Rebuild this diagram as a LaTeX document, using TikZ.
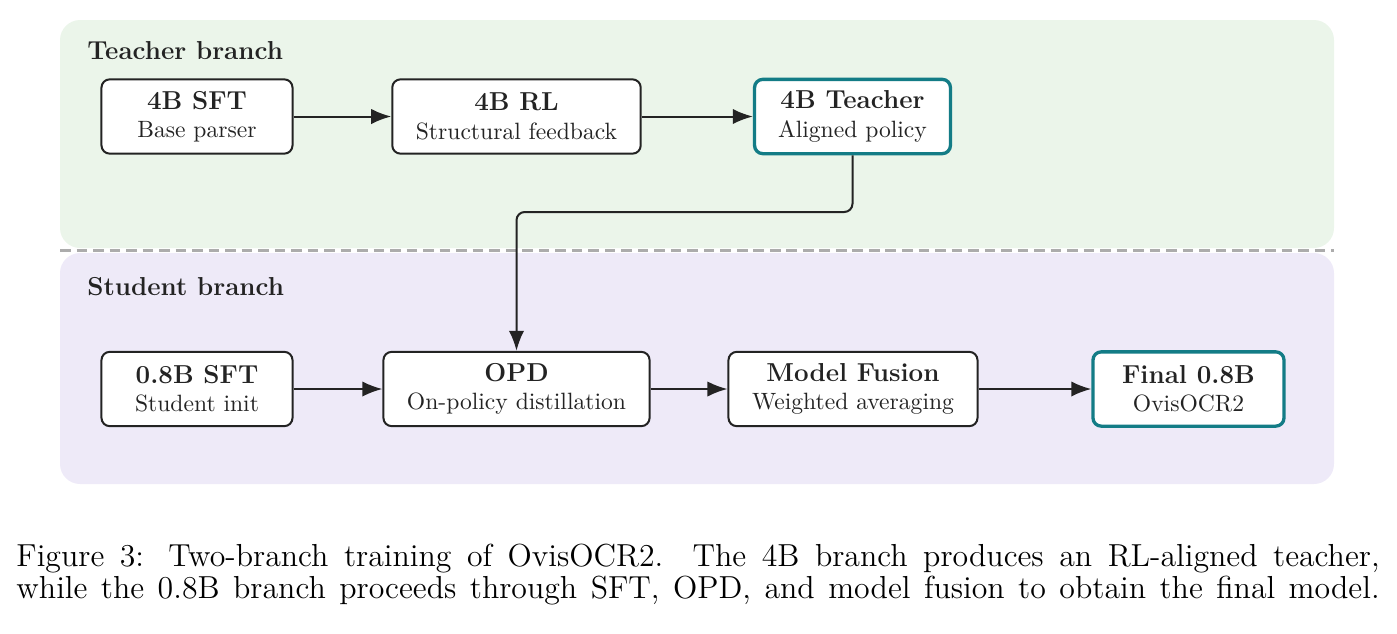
\documentclass[tikz,border=0pt]{standalone}
\usepackage{tikz}
\usetikzlibrary{arrows.meta,positioning}
\definecolor{teachfill}{HTML}{EBF5EA}
\definecolor{studfill}{HTML}{EEEAF8}
\definecolor{tealrim}{HTML}{137C86}
\definecolor{inkgray}{HTML}{232323}

\newcommand{\stagetitle}[1]{{\fontsize{11}{13}\selectfont\bfseries #1}}

\tikzset{
  stagebox/.style={draw=inkgray, line width=0.85pt, fill=white, rounded corners=3.5pt,
    minimum width=81pt, minimum height=31.5pt, inner xsep=10pt, align=center, text=inkgray},
  keybox/.style={stagebox, draw=tealrim, line width=1.4pt},
  flow/.style={draw=inkgray, line width=0.85pt, -{Latex[length=8.5pt,width=6.5pt]}},
  panel/.style={rounded corners=8.5pt, draw=none},
  branchlabel/.style={anchor=west, font=\fontsize{11}{13}\selectfont\bfseries, text=inkgray},
  captionline/.style={anchor=base west, inner sep=0pt, font=\fontsize{13.5}{16}\selectfont}
}

\begin{document}
\begin{tikzpicture}[x=0.424pt, y=-0.424pt]
\useasboundingbox (0,0) rectangle (1397,633);

% panels
\fill[panel, teachfill] (60,20) rectangle (1334,248);
\fill[panel, studfill] (60,253) rectangle (1334,484);
\draw[gray!65, line width=0.9pt, dash pattern=on 4.5pt off 2.5pt] (60,250.5) -- (1334,250.5);

\node[branchlabel] (teachlbl) at (79,51) {Teacher branch};
\node[branchlabel] (studlbl) at (79,287) {Student branch};

% teacher branch
\node[stagebox] (sft4) at (197,116.5) {\stagetitle{4B SFT}\\[0pt] Base parser};
\node[stagebox] (rl4) at (516.5,116.5) {\stagetitle{4B RL}\\[0pt] Structural feedback};
\node[keybox] (teacher) at (852.5,116.5) {\stagetitle{4B Teacher}\\[0pt] Aligned policy};

% student branch
\node[stagebox] (sft08) at (197,389) {\stagetitle{0.8B SFT}\\[0pt] Student init};
\node[stagebox] (opd) at (516.5,389) {\stagetitle{OPD}\\[0pt] On-policy distillation};
\node[stagebox] (fusion) at (853,389) {\stagetitle{Model Fusion}\\[0pt] Weighted averaging};
\node[keybox] (final) at (1188.5,389) {\stagetitle{Final 0.8B}\\[0pt] OvisOCR2};

\draw[flow] (sft4) -- (rl4);
\draw[flow] (rl4) -- (teacher);
\coordinate (drop) at (516.5,212);
\draw[flow, rounded corners=3.5pt] (teacher.south) |- (drop) -- (opd.north);

\draw[flow] (sft08) -- (opd);
\draw[flow] (opd) -- (fusion);
\draw[flow] (fusion) -- (final);

% caption
\node[captionline] (cap1) at (16,566.5) {\makebox[578pt][s]{Figure 3: Two-branch training of OvisOCR2. The 4B branch produces an RL-aligned teacher,}};
\node[captionline] (cap2) at (16,598) {\makebox[578pt][s]{while the 0.8B branch proceeds through SFT, OPD, and model fusion to obtain the final model.}};
\end{tikzpicture}
\end{document}
